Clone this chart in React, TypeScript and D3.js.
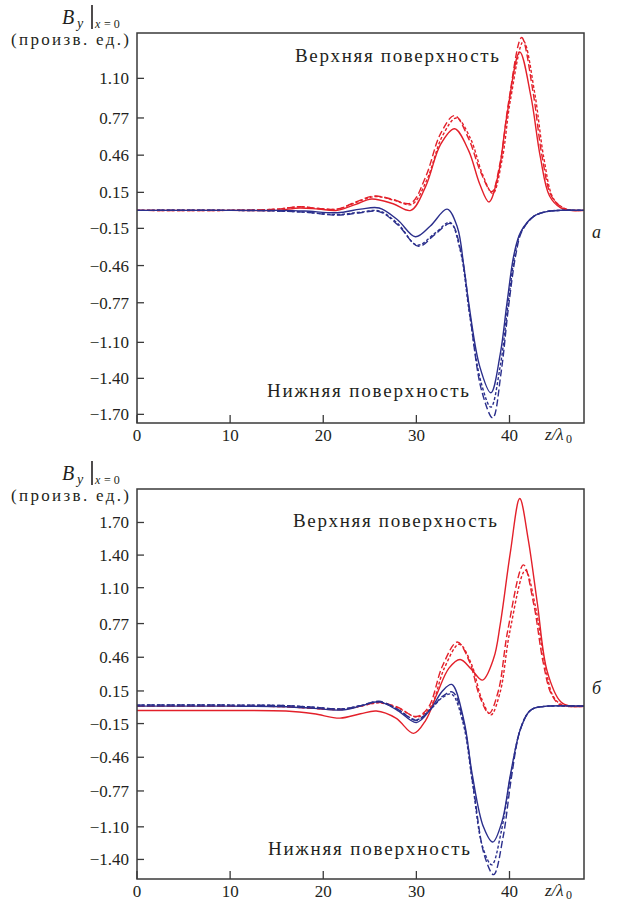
import React from "react";
import * as d3 from "d3";

// ---------- data (z/λ0, By) ----------
const xTicks = [0, 10, 20, 30, 40];
const yTicksA = [1.1, 0.77, 0.46, 0.15, -0.15, -0.46, -0.77, -1.1, -1.4, -1.7];
const yTicksB = [1.7, 1.4, 1.1, 0.77, 0.46, 0.15, -0.15, -0.46, -0.77, -1.1, -1.4];

// panel a — upper surface (red)
const redSolidA: [number, number][] = [[0,0],[10,0],[15,0],[17.5,0.02],[19.5,0.01],[21.5,0],[23.5,0.05],[25.2,0.095],[27.5,0.055],[29.4,0],[31,0.2],[32.6,0.55],[34.1,0.68],[35.6,0.5],[36.8,0.22],[37.8,0.07],[38.8,0.3],[39.7,0.78],[41.1,1.32],[42.3,0.95],[43.3,0.45],[44.3,0.12],[45.5,0.02],[46.5,0],[48,0]];
const redDashA: [number, number][] = [[0,0],[10,0],[15,0.01],[17.5,0.03],[19.5,0.015],[21.5,0.01],[23.5,0.07],[25.5,0.12],[27.5,0.09],[29.4,0.06],[31,0.28],[32.6,0.64],[34.1,0.79],[35.6,0.6],[36.9,0.32],[38.1,0.155],[39,0.4],[39.9,0.9],[41.3,1.44],[42.5,1.0],[43.5,0.45],[44.5,0.12],[45.7,0.02],[46.7,0],[48,0]];
const redDotA: [number, number][] = [[0,0],[10,0],[15,0.01],[17.5,0.03],[19.5,0.015],[21.5,0.01],[23.5,0.065],[25.6,0.115],[27.6,0.085],[29.5,0.05],[31.1,0.25],[32.8,0.62],[34.3,0.77],[35.8,0.6],[37.1,0.3],[38.2,0.14],[39.2,0.42],[40.1,0.92],[41.5,1.41],[42.7,0.98],[43.7,0.43],[44.7,0.1],[45.8,0.02],[46.8,0],[48,0]];
// panel a — lower surface (blue)
const blueSolidA: [number, number][] = [[0,0],[10,0],[15,0],[18,-0.005],[21.5,-0.02],[24,0.01],[26,0.02],[28,-0.08],[29.9,-0.22],[31.5,-0.13],[33.3,0.01],[34.4,-0.14],[35.1,-0.47],[35.6,-0.76],[36.8,-1.3],[38,-1.52],[39,-1.2],[39.75,-0.76],[40.5,-0.36],[41.2,-0.18],[42.6,-0.05],[44,-0.01],[45.5,0],[48,0]];
const blueDashA: [number, number][] = [[0,0],[10,0],[15,-0.005],[18,-0.015],[21.5,-0.04],[24,-0.02],[26,-0.01],[28,-0.12],[30.25,-0.3],[32,-0.2],[33.7,-0.11],[34.8,-0.35],[35.8,-0.9],[37,-1.5],[38.2,-1.73],[39.1,-1.35],[39.9,-0.8],[40.7,-0.36],[41.3,-0.18],[42.6,-0.05],[44,-0.01],[45.5,0],[48,0]];
const blueDotA: [number, number][] = [[0,0],[10,0],[15,-0.005],[18,-0.015],[21.5,-0.035],[24,-0.015],[26,-0.005],[28,-0.11],[30.1,-0.29],[32,-0.19],[33.6,-0.1],[34.7,-0.33],[35.7,-0.86],[36.9,-1.42],[38,-1.64],[39,-1.3],[39.85,-0.78],[40.6,-0.36],[41.25,-0.18],[42.6,-0.05],[44,-0.01],[45.5,0],[48,0]];

// panel б — upper surface (red)
const redSolidB: [number, number][] = [[0,-0.03],[10,-0.03],[16,-0.035],[19,-0.06],[21.8,-0.1],[24,-0.06],[25.7,-0.035],[27.8,-0.1],[29.7,-0.24],[31,-0.12],[32.2,0.12],[33.5,0.36],[34.7,0.44],[35.9,0.35],[37.1,0.25],[38.3,0.45],[39,0.76],[40.1,1.43],[41.1,1.92],[42,1.55],[43,0.95],[44.05,0.33],[45.5,0.05],[46.5,0.01],[48,0.01]];
const redDashB: [number, number][] = [[0,0.01],[10,0.01],[16,0.005],[19,-0.01],[22,-0.02],[24,0.01],[26,0.045],[28,0],[30,-0.085],[31.3,0],[32.8,0.38],[34.4,0.6],[35.7,0.42],[36.8,0.1],[37.8,-0.055],[38.8,0.15],[39.8,0.7],[41.5,1.31],[42.6,0.95],[43.6,0.42],[44.5,0.12],[45.5,0.02],[48,0.01]];
const redDotB: [number, number][] = [[0,0.01],[10,0.01],[16,0.005],[19,-0.01],[22,-0.02],[24,0.01],[26,0.04],[28,-0.005],[30.1,-0.09],[31.5,0],[33,0.36],[34.6,0.58],[35.9,0.4],[37,0.08],[38,-0.07],[39,0.14],[40,0.68],[41.7,1.26],[42.8,0.92],[43.8,0.4],[44.7,0.1],[45.7,0.02],[48,0.01]];
// panel б — lower surface (blue)
const blueSolidB: [number, number][] = [[0,0.01],[10,0.01],[16,0.005],[19,-0.01],[22,-0.025],[24,0.01],[26,0.05],[28,-0.03],[30,-0.14],[31.5,-0.02],[32.8,0.15],[33.8,0.21],[35.1,-0.12],[36,-0.62],[37.2,-1.1],[38.2,-1.24],[39.2,-1.05],[40.1,-0.62],[41.1,-0.22],[42,-0.05],[42.6,-0.01],[44,0.01],[48,0.01]];
const blueDashB: [number, number][] = [[0,0.02],[10,0.02],[16,0.015],[19,0],[22,-0.015],[24,0.015],[26,0.055],[28,-0.02],[30,-0.12],[31.5,-0.02],[32.8,0.1],[33.9,0.14],[35.1,-0.15],[36.1,-0.72],[37.3,-1.36],[38.3,-1.54],[39.3,-1.2],[40.2,-0.65],[41.1,-0.22],[42,-0.05],[42.6,-0.01],[44,0.01],[48,0.01]];
const blueDotB: [number, number][] = [[0,0.02],[10,0.02],[16,0.015],[19,0],[22,-0.015],[24,0.015],[26,0.05],[28,-0.02],[30,-0.115],[31.5,-0.02],[32.8,0.09],[33.8,0.12],[35,-0.14],[36,-0.68],[37.1,-1.28],[38.1,-1.45],[39.1,-1.15],[40.1,-0.64],[41.1,-0.22],[42,-0.05],[42.6,-0.01],[44,0.01],[48,0.01]];

const RED = "#e3202a";
const BLUE = "#2b2f8c";
const INK = "#231f20";
const FONT = "Liberation Serif, Times New Roman, Tinos, Times, DejaVu Serif, Noto Serif, serif";

type Series = { data: [number, number][]; color: string; dash?: string };

const fmt = (v: number) => (v < 0 ? "\u2212" : "") + Math.abs(v).toFixed(2);

function Panel(props: {
  top: number; bottom: number; yDomain: [number, number]; yTicks: number[];
  series: Series[]; letter: string; upperLabel: [number, number]; lowerLabel: [number, number];
  id: string;
}) {
  const { top, bottom, yDomain, yTicks, series, letter, upperLabel, lowerLabel, id } = props;
  const left = 137, right = 584;
  const x = d3.scaleLinear().domain([0, 48]).range([left, right]);
  const y = d3.scaleLinear().domain(yDomain).range([bottom, top]);
  const line = d3.line<[number, number]>().x(d => x(d[0])).y(d => y(d[1])).curve(d3.curveCatmullRom.alpha(0.5));
  return (
    <g>
      <defs>
        <clipPath id={id}><rect x={left} y={top} width={right - left} height={bottom - top} /></clipPath>
      </defs>
      <g clipPath={`url(#${id})`}>
        {series.map((s, i) => (
          <path key={i} d={line(s.data) || ""} fill="none" stroke={s.color} strokeWidth={1.4} strokeDasharray={s.dash} />
        ))}
      </g>
      <rect x={left} y={top} width={right - left} height={bottom - top} fill="none" stroke="#3a3a3a" strokeWidth={1.5} />
      {yTicks.map(t => (
        <g key={t}>
          <line x1={left} x2={left + 7} y1={y(t)} y2={y(t)} stroke="#3a3a3a" strokeWidth={1.3} />
          <text x={left - 8} y={y(t)} dy="0.35em" textAnchor="end" fontSize={17} fontFamily={FONT} fill={INK}>{fmt(t)}</text>
        </g>
      ))}
      {xTicks.map(t => (
        <g key={t}>
          <line x1={x(t)} x2={x(t)} y1={bottom} y2={bottom - 8} stroke="#3a3a3a" strokeWidth={1.3} />
          <text x={x(t)} y={bottom + 18} textAnchor="middle" fontSize={17} fontFamily={FONT} fill={INK}>{t}</text>
        </g>
      ))}
      <text x={545} y={bottom + 17} fontSize={17} fontFamily={FONT} fontStyle="italic" fill={INK}>z/λ</text>
      <text x={566} y={bottom + 20} fontSize={12} fontFamily={FONT} fill={INK}>0</text>
      <text x={upperLabel[0]} y={upperLabel[1]} fontSize={19} textLength={204} lengthAdjust="spacing" fontFamily={FONT} fill={INK}>Верхняя поверхность</text>
      <text x={lowerLabel[0]} y={lowerLabel[1]} fontSize={19} textLength={202} lengthAdjust="spacing" fontFamily={FONT} fill={INK}>Нижняя поверхность</text>
      <text x={592} y={(top + bottom) / 2 + 10} fontSize={18} fontFamily={FONT} fontStyle="italic" fill={INK}>{letter}</text>
      <text x={62} y={top - 9} fontSize={20} fontFamily={FONT} fontStyle="italic" fill={INK}>B</text>
      <text x={77} y={top - 5} fontSize={14} fontFamily={FONT} fontStyle="italic" fill={INK}>y</text>
      <line x1={92} x2={92} y1={top - 28} y2={top - 4} stroke={INK} strokeWidth={1.6} />
      <text x={95} y={top - 5} fontSize={12} fontFamily={FONT} fontStyle="italic" fill={INK}>x</text>
      <text x={104} y={top - 5} fontSize={12} fontFamily={FONT} fill={INK}>= 0</text>
      <text x={129} y={top + 12} textAnchor="end" fontSize={17} textLength={118} lengthAdjust="spacing" fontFamily={FONT} fill={INK}>(произв. ед.)</text>
    </g>
  );
}

export default function App() {
  const seriesA: Series[] = [
    { data: redSolidA, color: RED },
    { data: redDashA, color: RED, dash: "7,3" },
    { data: redDotA, color: RED, dash: "3,2" },
    { data: blueSolidA, color: BLUE },
    { data: blueDashA, color: BLUE, dash: "7,3" },
    { data: blueDotA, color: BLUE, dash: "3,2" },
  ];
  const seriesB: Series[] = [
    { data: redSolidB, color: RED },
    { data: redDashB, color: RED, dash: "7,3" },
    { data: redDotB, color: RED, dash: "3,2" },
    { data: blueSolidB, color: BLUE },
    { data: blueDashB, color: BLUE, dash: "7,3" },
    { data: blueDotB, color: BLUE, dash: "3,2" },
  ];
  return (
    <svg width={617} height={902} style={{ position: "absolute", left: 0, top: 0, background: "#fff" }}>
      <rect width={617} height={902} fill="#fff" />
      <Panel id="ca" top={33} bottom={423} yDomain={[-1.772, 1.478]} yTicks={yTicksA} series={seriesA}
        letter="а" upperLabel={[295, 62]} lowerLabel={[267, 397]} />
      <Panel id="cb" top={489} bottom={879} yDomain={[-1.58, 2.008]} yTicks={yTicksB} series={seriesB}
        letter="б" upperLabel={[293, 527]} lowerLabel={[268, 855]} />
    </svg>
  );
}
